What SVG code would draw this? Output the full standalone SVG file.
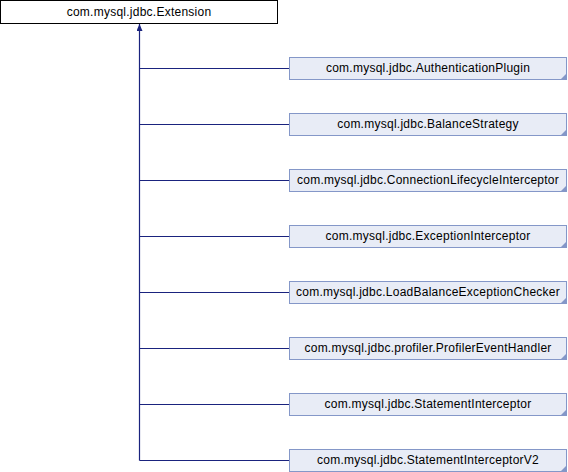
<svg xmlns="http://www.w3.org/2000/svg" width="568" height="472" viewBox="0 0 568 472">
<style>
text{font-family:"Liberation Sans",Arial,sans-serif;font-size:12px;letter-spacing:0.25px;fill:#000;text-anchor:middle}
.base{fill:#fff;stroke:#000;stroke-width:1}
.cls{fill:#e8ecf6;stroke:#8497c8;stroke-width:1}
.fold{fill:#8497c8}
.edge{stroke:#1a237e;stroke-width:1.2;fill:none}
</style>
<defs>
<marker id="ah" markerWidth="7" markerHeight="6" refX="7" refY="3" orient="auto" markerUnits="userSpaceOnUse">
<path d="M0,0 L7,3 L0,6 Z" fill="#1a237e"/>
</marker>
</defs>
<rect width="568" height="472" fill="#fff"/>
<g id="connectors">
<path class="edge" d="M139.5,460.5 V24" marker-end="url(#ah)"/>
<path class="edge" d="M139.5,68.5 H289"/>
<path class="edge" d="M139.5,124.5 H289"/>
<path class="edge" d="M139.5,180.5 H289"/>
<path class="edge" d="M139.5,236.5 H289"/>
<path class="edge" d="M139.5,292.5 H289"/>
<path class="edge" d="M139.5,348.5 H289"/>
<path class="edge" d="M139.5,404.5 H289"/>
<path class="edge" d="M139.5,460.5 H289"/>
</g>
<g id="Extension">
<rect class="base" x="0.5" y="0.5" width="277" height="23"/>
<text x="139" y="16">com.mysql.jdbc.Extension</text>
</g>
<g id="AuthenticationPlugin">
<rect class="cls" x="289.5" y="57.5" width="277" height="22"/>
<path class="fold" d="M567,73 L567,80 L560,80 Z"/>
<text x="428" y="72">com.mysql.jdbc.AuthenticationPlugin</text>
</g>
<g id="BalanceStrategy">
<rect class="cls" x="289.5" y="113.5" width="277" height="22"/>
<path class="fold" d="M567,129 L567,136 L560,136 Z"/>
<text x="428" y="128">com.mysql.jdbc.BalanceStrategy</text>
</g>
<g id="ConnectionLifecycleInterceptor">
<rect class="cls" x="289.5" y="169.5" width="277" height="22"/>
<path class="fold" d="M567,185 L567,192 L560,192 Z"/>
<text x="428" y="184">com.mysql.jdbc.ConnectionLifecycleInterceptor</text>
</g>
<g id="ExceptionInterceptor">
<rect class="cls" x="289.5" y="225.5" width="277" height="22"/>
<path class="fold" d="M567,241 L567,248 L560,248 Z"/>
<text x="428" y="240">com.mysql.jdbc.ExceptionInterceptor</text>
</g>
<g id="LoadBalanceExceptionChecker">
<rect class="cls" x="289.5" y="281.5" width="277" height="22"/>
<path class="fold" d="M567,297 L567,304 L560,304 Z"/>
<text x="428" y="296">com.mysql.jdbc.LoadBalanceExceptionChecker</text>
</g>
<g id="ProfilerEventHandler">
<rect class="cls" x="289.5" y="337.5" width="277" height="22"/>
<path class="fold" d="M567,353 L567,360 L560,360 Z"/>
<text x="428" y="352">com.mysql.jdbc.profiler.ProfilerEventHandler</text>
</g>
<g id="StatementInterceptor">
<rect class="cls" x="289.5" y="393.5" width="277" height="22"/>
<path class="fold" d="M567,409 L567,416 L560,416 Z"/>
<text x="428" y="408">com.mysql.jdbc.StatementInterceptor</text>
</g>
<g id="StatementInterceptorV2">
<rect class="cls" x="289.5" y="449.5" width="277" height="22"/>
<path class="fold" d="M567,465 L567,472 L560,472 Z"/>
<text x="428" y="464">com.mysql.jdbc.StatementInterceptorV2</text>
</g>
</svg>
